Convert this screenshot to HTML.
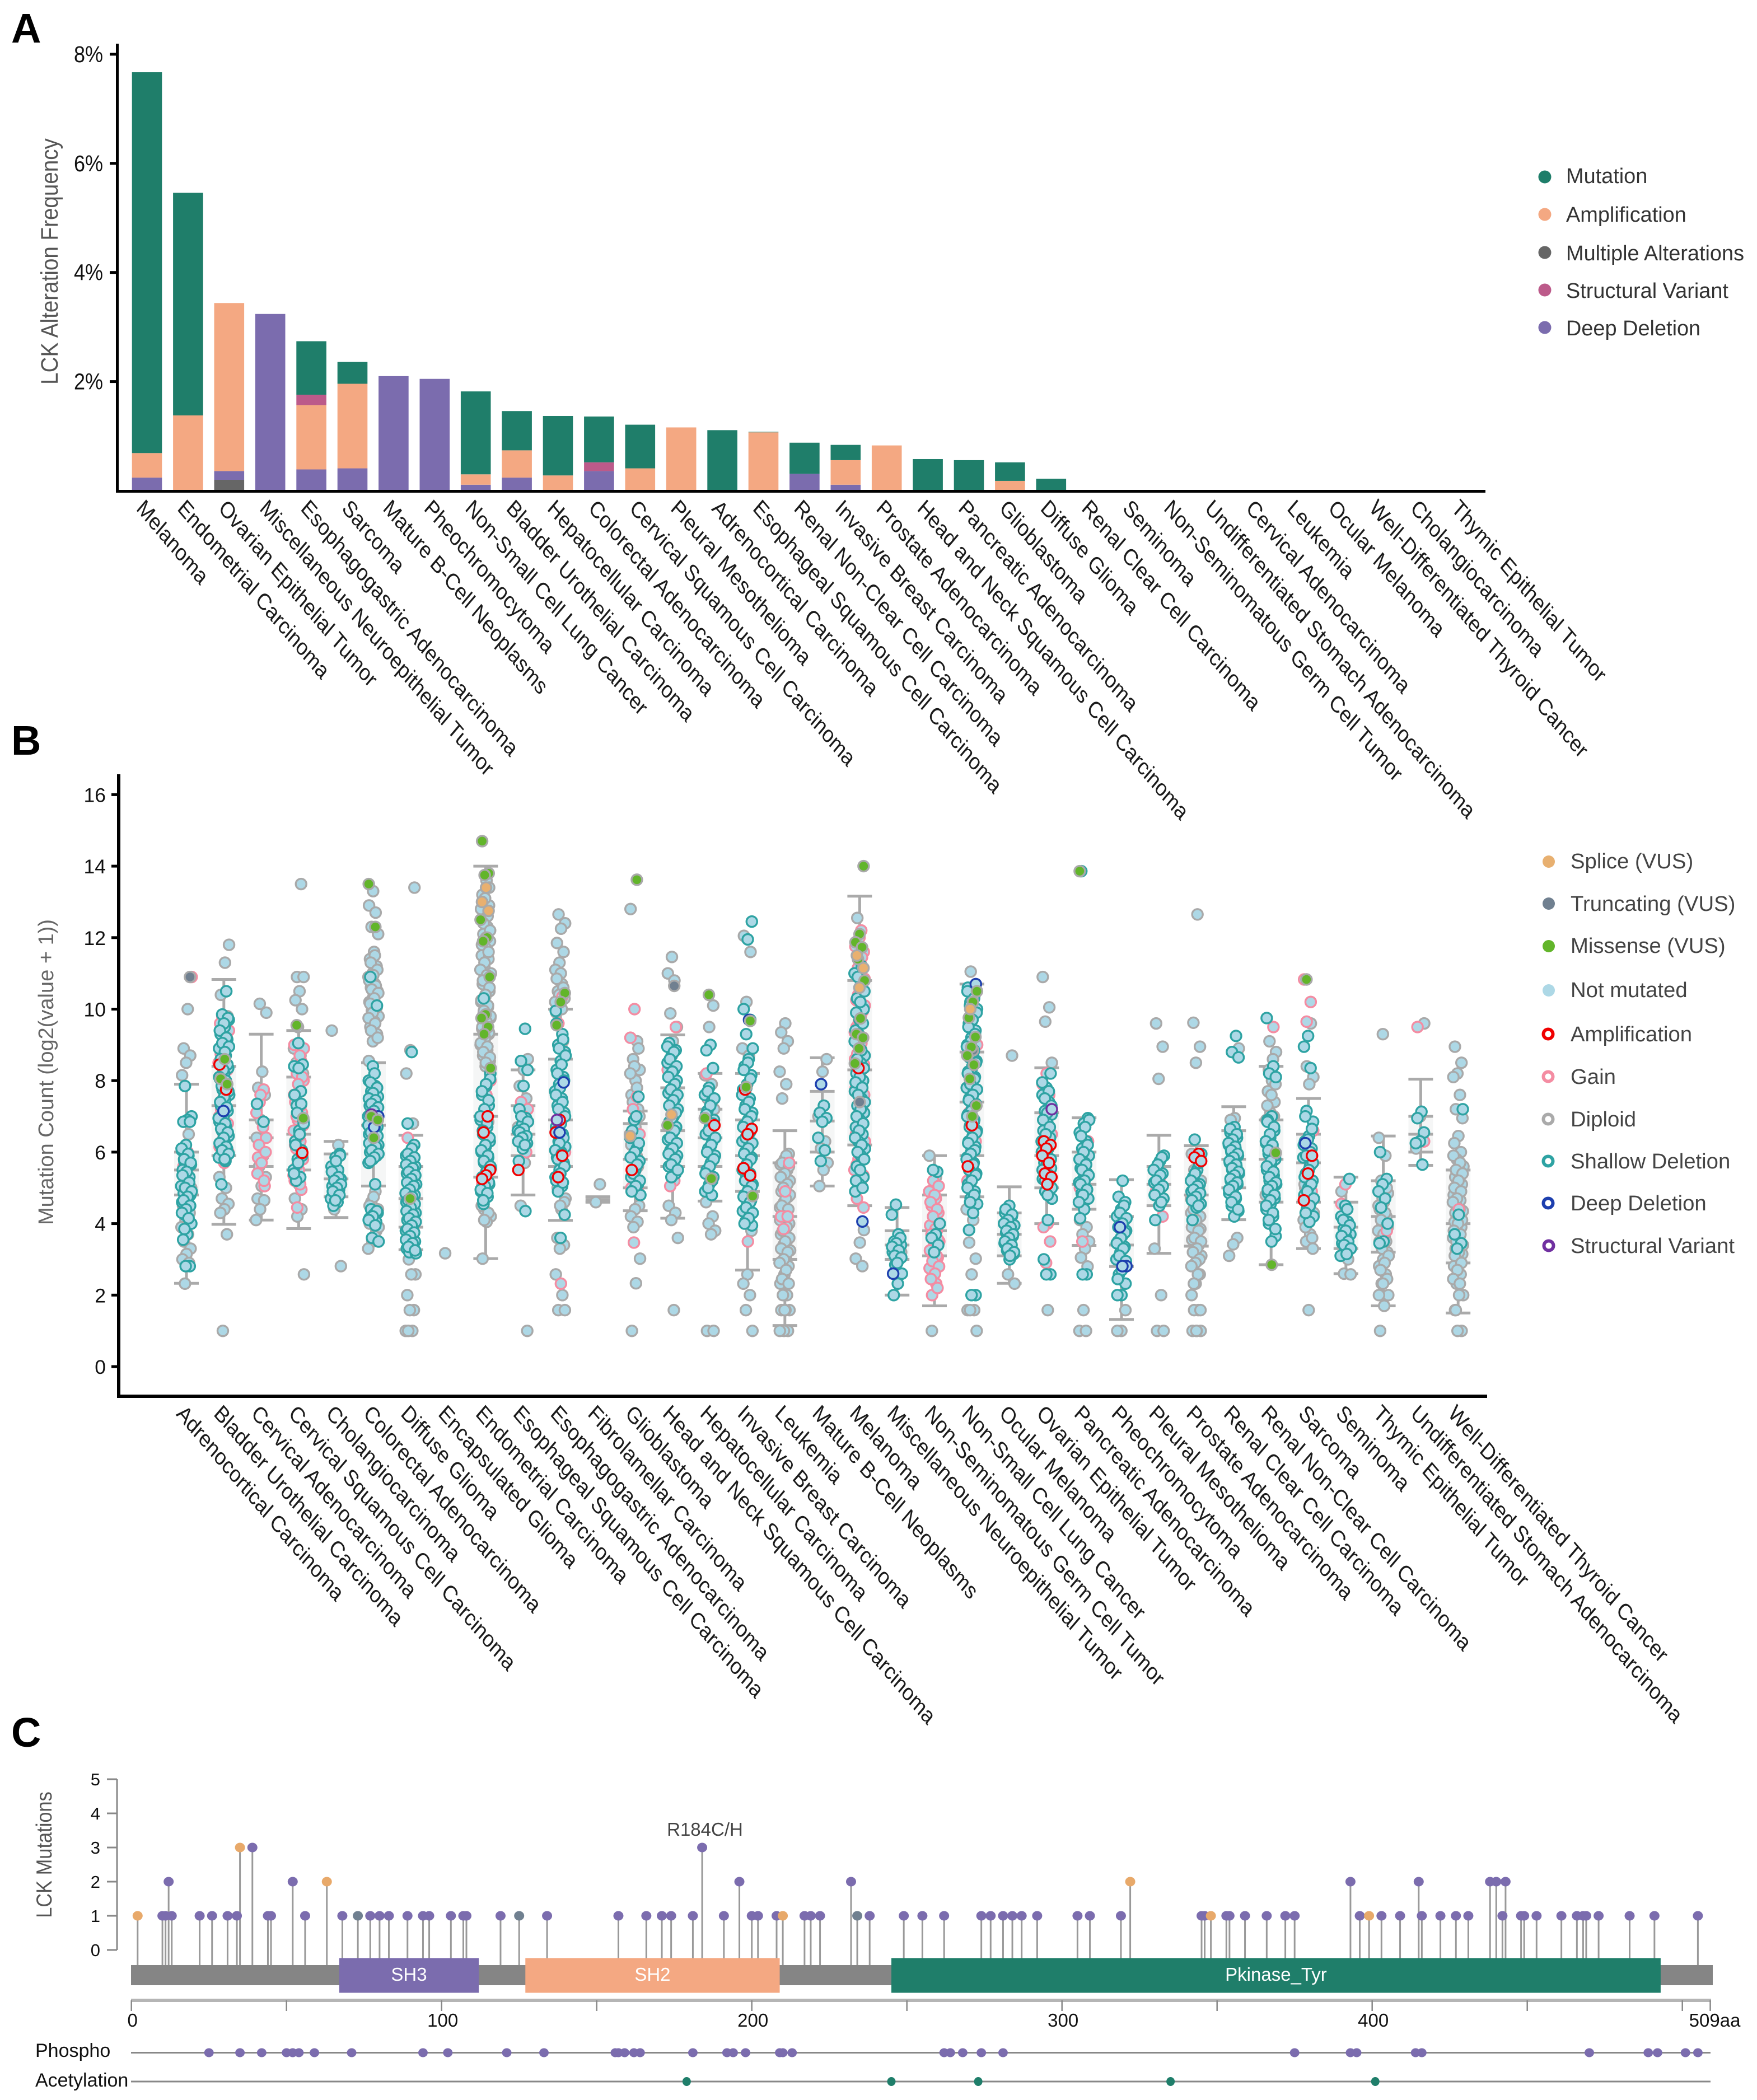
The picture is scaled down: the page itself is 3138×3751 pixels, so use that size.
<!DOCTYPE html>
<html lang="en">
<head>
<meta charset="utf-8">
<title>LCK alterations across cancer types</title>
<style>
html,body{margin:0;padding:0;background:#fff;}
svg{display:block;}
text{font-family:"Liberation Sans",Arial,sans-serif;}
</style>
</head>
<body>
<svg id="figure" xmlns="http://www.w3.org/2000/svg" width="3138" height="3751" viewBox="0 0 3138 3751">
  <rect x="0" y="0" width="3138" height="3751" fill="#ffffff"/>
  <text x="20" y="76" font-size="74" font-weight="700" fill="#000">A</text>
  <text x="20" y="1348" font-size="74" font-weight="700" fill="#000">B</text>
  <text x="20" y="3120" font-size="74" font-weight="700" fill="#000">C</text>

  <g id="panelA"></g>
  <g id="panelB"></g>
  <g id="panelC"></g>

  <g font-size="37.9" fill="#333">
    <g><circle cx="2759" cy="316" r="11.5" fill="#1f7e6a"/><text x="2797" y="327">Mutation</text></g>
    <g><circle cx="2759" cy="383" r="11.5" fill="#f4a882"/><text x="2797" y="396">Amplification</text></g>
    <g><circle cx="2759" cy="451" r="11.5" fill="#666666"/><text x="2797" y="465">Multiple Alterations</text></g>
    <g><circle cx="2759" cy="518" r="11.5" fill="#bc5a8a"/><text x="2797" y="532">Structural Variant</text></g>
    <g><circle cx="2759" cy="585" r="11.5" fill="#7b6cae"/><text x="2797" y="599">Deep Deletion</text></g>
  </g>

  <g font-size="38.3" fill="#444">
    <g><circle cx="2766" cy="1539" r="11" fill="#e8b070"/><text x="2805" y="1551">Splice (VUS)</text></g>
    <g><circle cx="2766" cy="1614" r="11" fill="#708090"/><text x="2805" y="1627">Truncating (VUS)</text></g>
    <g><circle cx="2766" cy="1690" r="11" fill="#62b52a"/><text x="2805" y="1702">Missense (VUS)</text></g>
    <g><circle cx="2766" cy="1769" r="11" fill="#add8e6"/><text x="2805" y="1781">Not mutated</text></g>
    <g><circle cx="2765" cy="1847" r="8.5" fill="#fff" stroke="#f00000" stroke-width="6"/><text x="2805" y="1860">Amplification</text></g>
    <g><circle cx="2765" cy="1923" r="8.5" fill="#fff" stroke="#f48ca2" stroke-width="6"/><text x="2805" y="1936">Gain</text></g>
    <g><circle cx="2765" cy="1999" r="8.5" fill="#fff" stroke="#aaaaaa" stroke-width="6"/><text x="2805" y="2012">Diploid</text></g>
    <g><circle cx="2765" cy="2074" r="8.5" fill="#fff" stroke="#2ea3a3" stroke-width="6"/><text x="2805" y="2087">Shallow Deletion</text></g>
    <g><circle cx="2765" cy="2149" r="8.5" fill="#fff" stroke="#1d3fae" stroke-width="6"/><text x="2805" y="2162">Deep Deletion</text></g>
    <g><circle cx="2766" cy="2225" r="8.5" fill="#fff" stroke="#7030a0" stroke-width="6"/><text x="2805" y="2238">Structural Variant</text></g>
  </g>
</svg>

<script>
/* ---------- Panel A data ---------- */
const alterationTypes = ["Melanoma","Endometrial Carcinoma","Ovarian Epithelial Tumor","Miscellaneous Neuroepithelial Tumor","Esophagogastric Adenocarcinoma","Sarcoma","Mature B-Cell Neoplasms","Pheochromocytoma","Non-Small Cell Lung Cancer","Bladder Urothelial Carcinoma","Hepatocellular Carcinoma","Colorectal Adenocarcinoma","Cervical Squamous Cell Carcinoma","Pleural Mesothelioma","Adrenocortical Carcinoma","Esophageal Squamous Cell Carcinoma","Renal Non-Clear Cell Carcinoma","Invasive Breast Carcinoma","Prostate Adenocarcinoma","Head and Neck Squamous Cell Carcinoma","Pancreatic Adenocarcinoma","Glioblastoma","Diffuse Glioma","Renal Clear Cell Carcinoma","Seminoma","Non-Seminomatous Germ Cell Tumor","Undifferentiated Stomach Adenocarcinoma","Cervical Adenocarcinoma","Leukemia","Ocular Melanoma","Well-Differentiated Thyroid Cancer","Cholangiocarcinoma","Thymic Epithelial Tumor"];
const multipleFreq = [0,0,0.2,0,0,0,0,0,0,0,0,0,0,0,0,0,0,0,0,0,0,0,0,0,0,0,0,0,0,0,0,0,0];
const deepFreq =     [0.24,0,0.16,3.24,0.39,0.41,2.1,2.05,0.11,0.24,0,0.36,0,0,0,0,0.31,0.11,0,0,0,0,0,0,0,0,0,0,0,0,0,0,0];
const ampFreq =      [0.45,1.38,3.08,0,1.18,1.55,0,0,0.19,0.5,0.28,0,0.41,1.16,0,1.07,0,0.45,0.83,0,0,0.18,0,0,0,0,0,0,0,0,0,0,0];
const structuralFreq=[0,0,0,0,0.19,0,0,0,0,0,0,0.16,0,0,0,0,0,0,0,0,0,0,0,0,0,0,0,0,0,0,0,0,0];
const mutationFreq = [6.98,4.08,0,0,0.98,0.4,0,0,1.52,0.72,1.09,0.84,0.8,0,1.11,0.01,0.57,0.28,0,0.58,0.56,0.34,0.22,0.015,0.015,0.015,0.015,0.015,0,0,0,0,0];
const percentTicks = [2,4,6,8];

/* ---------- Panel B data ---------- */
const cancerTypes = ["Adrenocortical Carcinoma","Bladder Urothelial Carcinoma","Cervical Adenocarcinoma","Cervical Squamous Cell Carcinoma","Cholangiocarcinoma","Colorectal Adenocarcinoma","Diffuse Glioma","Encapsulated Glioma","Endometrial Carcinoma","Esophageal Squamous Cell Carcinoma","Esophagogastric Adenocarcinoma","Fibrolamellar Carcinoma","Glioblastoma","Head and Neck Squamous Cell Carcinoma","Hepatocellular Carcinoma","Invasive Breast Carcinoma","Leukemia","Mature B-Cell Neoplasms","Melanoma","Miscellaneous Neuroepithelial Tumor","Non-Seminomatous Germ Cell Tumor","Non-Small Cell Lung Cancer","Ocular Melanoma","Ovarian Epithelial Tumor","Pancreatic Adenocarcinoma","Pheochromocytoma","Pleural Mesothelioma","Prostate Adenocarcinoma","Renal Clear Cell Carcinoma","Renal Non-Clear Cell Carcinoma","Sarcoma","Seminoma","Thymic Epithelial Tumor","Undifferentiated Stomach Adenocarcinoma","Well-Differentiated Thyroid Cancer"];
const countTicks = [0,2,4,6,8,10,12,14,16];
const whiskerHigh = [7.9,10.83,9.3,9.4,6.3,8.5,6.47,null,14,8.3,10,4.75,7.15,9.28,8.2,8.2,6.6,8.64,13.16,4.45,5.9,10.7,5.03,8.36,6.96,5.23,6.47,6.18,7.27,8.4,7.5,5.3,6.45,8.04,5.5];
const boxQ3 = [6,8.4,6.9,8.1,5.95,8.5,5.6,null,9.3,7.3,8.6,4.75,6.8,7.8,7.2,6.9,5.7,7.7,10.8,3.8,4.8,8.8,4.3,7.1,6,4.2,5.6,6.18,6.6,6.9,6.5,4.6,5.2,7,5.5];
const boxMedian = [5.5,7.3,6.4,6.5,5.25,6.75,4.7,null,7,6.5,6.9,4.67,5.8,6.6,6.4,5.9,4.2,6.87,8.3,3.4,3.8,7.4,3.7,5.9,5.1,3.4,5.1,4.8,5.8,5.8,5.7,3.9,4.2,6.5,4];
const boxQ1 = [4.8,5.9,5.6,5.5,4.75,5.05,3.9,null,5.3,5.9,5.6,4.6,5,5.6,5.6,4.9,3,6,6.2,3,3.1,5.9,3.1,5,4.4,2.8,4.5,3.37,5,4.6,4.6,3.3,3.2,6,2.9];
const whiskerLow = [2.33,3.98,4.1,3.86,4.17,5.05,3.27,null,3.02,4.8,4.09,4.6,4.36,4.15,4.63,2.7,1.15,5.05,4.5,2,1.7,4.75,2.33,4,3.39,1.32,3.17,3.37,4.11,2.85,3.3,2.6,1.7,5.63,1.5];

const diploidCounts = [
[10,8.9,8.7,8.5,8.15,6.5,5.3,5,4.7,4.5,4.3,4.1,3.9,3.7,3.5,3.3,3.15,3,2.9,2.32],
[11.8,11.3,10.4,9.8,9.4,5.3,5,4.7,4.55,4.4,4.3,3.7,1],
[10.15,9.9,8.25,7.8,7.6,6.9,6.4,5.9,5.6,5.3,5.05,4.7,4.65,4.4,4.1],
[13.5,10.9,10.9,10.5,10.25,10,9.5,8.9,8.7,8.5,8.2,5.1,4.7,4.4,4.2,2.58],
[9.4,6.2,4.4,2.81],
[13.3,12.9,12.7,12.3,12.1,11.6,11.4,11.2,11,10.9,10.7,10.6,10.5,10.35,10.2,10.1,9.95,9.8,9.65,9.5,9.3,9.1,8.55,4.9,4.6,4.4,4.2,4,3.8,3.5,3.3],
[13.4,8.85,8.2,6.8,3,2.58,2.58,2,1.58,1.58,1,1,1],
[3.17],
[13.6,13.2,12.9,12.7,12.5,12.3,12.1,11.9,11.7,11.5,11.4,11.2,11,10.85,10.7,10.5,10.35,10.2,10.05,9.9,9.75,9.6,9.45,9.3,9.15,9,8.85,8.7,8.55,8.4,7,6.85,4.4,4.2,4.05,3.02],
[8.6,8.3,7.85,7.5,7.2,6.7,5.7,4.5,1],
[12.65,12.4,12.25,11.85,11.6,11.3,11.1,10.7,10.5,10.3,10.1,9.9,9.1,5.1,4.7,4.4,3.6,3.4,3.3,2.58,2,1.58,1.58],
[5.1,4.6],
[12.8,9.1,8.6,8.3,8,7.6,7.2,6.9,6.5,5.9,5.3,4.5,4.4,4.2,4.05,3.9,3.02,2.33,1],
[11.46,11,10.8,9.88,9.5,9.1,4.5,4.3,4.1,3.6,1.58],
[10.1,9.5,8.15,7.9,7.5,7.2,6.8,4.6,4.2,4,3.8,3.7,1,1],
[12.05,11.6,10.2,8.9,8.7,4.3,3.8,2.58,2.32,2,1.58,1],
[9.6,9.35,9.1,8.9,8.25,7.9,7.5,5.95,5.8,5.65,5.5,5.35,5.2,5.05,4.9,4.75,4.6,4.45,4.3,4.15,4,3.85,3.7,3.55,3.4,3.25,3.1,2.95,2.81,2.58,2.32,2,2,1.58,1.58,1.58,1,1,1],
[8.6,8.25,7,6.3,6.1,5.7,5.5,5.05],
[12.55,3.82,3.47,3.02,2.81],
[3.6,3.4,3.2,3.05],
[5.9,5.3,1],
[11.05,4.4,4.1,3.47,3.02,2.58,1.58,1.58,1.58,1],
[8.7,2.58,2.32],
[10.9,10.05,9.65,8.5,1.58],
[6.8,4.1,3.9,3.7,3.5,3.3,3.05,2.8,1.58,1,1],
[1.58,1,1],
[9.6,8.95,8.05,3.3,2,1,1],
[12.65,9.62,8.95,8.5,5.95,5.75,5.5,5.2,4.9,4.75,4.6,4.45,4.3,4.15,4,3.85,3.7,3.55,3.4,3.25,3.1,2.95,2.81,2.58,2.32,2,1.58,1.58,1,1,1],
[8.9,6.95,6.9,3.6,3.42,3.1],
[9.1,8.8,8,7.7,7.4,7.1,6.9],
[9.6,8.4,8.1,7.9,5,4.7,4.4,4.1,3.7,3.5,3.3,1.58],
[4.9,3,2.6,2.58],
[9.3,6.4,5.9,5.2,4.85,4.6,4.4,4.2,4,3.8,3.6,3.4,3.2,3,2.81,2.58,2.32,2,1.7,1],
[9.6,7,6.1],
[8.95,8.5,8.2,8.1,7.6,7.2,6.95,6.45,6.25,6,5.8,5.6,5.5,5.3,5.1,4.95,4.8,4.65,4.5,4.35,4.2,4.05,3.9,3.75,3.6,3.45,3.3,3.15,3,2.81,2.58,2.32,2,2,1.58,1,1]
];
const diploidDense = [
[],[],[],[],[],
[11.5,11.3,11.1,10.95,10.8,10.65,10.55,10.45,10.3,10.15,10.05,9.9,9.75,9.6,9.4,9.2,4.75,4.5,4.3,4.1,3.9,3.65],
[],[],
[13.4,13.1,12.8,12.6,12.4,12.2,12,11.8,11.6,11.3,11.1,10.95,10.8,10.6,10.4,10.25,10.1,9.95,9.8,9.65,9.5,9.35,9.2,9.05,8.95,8.8,8.65,8.5,4.5,4.3,4.1],
[],
[11,10.85,10.6,10.4,10.2,10,5,4.6,4.5],
[],
[8.9,8.4,8.2,7.8,7.4,7,6.7,6.2,5.6],
[],[],[],
[5.9,5.7,5.6,5.4,5.3,5.1,5,4.8,4.7,4.5,4.4,4.2,4.1,3.9,3.8,3.6,3.5,3.3,3.2,3,2.9,2.7,2.45,2.32,1.58],
[],[],[],[],[],[],[],[],[],[],
[4.95,4.8,4.7,4.5,4.4,4.2,4.1,3.9,3.8,3.6,3.5,3.3,3.2,3,2.9,2.81,2.58,2.32,1.58,1],
[],
[8.6,8.3,7.9,7.6,7.3,7,5,4.8],
[5.1,4.9,4.6,4.3,4.2,3.9,3.6],
[],
[5,4.7,4.5,4.3,4.1,3.9,3.7,3.5,3.5,3.3,3.1,2.9,2.7,2.45,2.32,2],
[],
[5.9,5.7,5.5,5.4,5.2,5,4.9,4.7,4.6,4.4,4.3,4.1,4,3.8,3.7,3.5,3.4,3.2,3.1,2.9,2.7,2.45,2.32,1.58]
];
const gainCounts = [
[10.9,6,5.6],
[9.8,9.4,9,8.75,8.3,7.5,7,6.7,6.3,6,5.7],
[7.75,7.4,6.4,5.9,5.85,5.05],
[9,8.55,8.2,8,7.7,7.4,7.1,6.9,6.6,6.3,6.1,5.8,5.5,5.2,4.95,4.45],
[],[],[6.4],[],
[8,7.6,5.1],
[7.4,7.2,7,6.6,6],
[10.35,9.6,6,2.32],
[],
[10,9.2,7.55,7.2,6.5,5.5,5,4.9,3.47],
[9.5,8.7,8.3,5.2,5.05],
[8.2,6.9],
[3.5],
[5.7,4.9,4.2,4.2,3.85],
[],
[12.2,11.9,11.6,11.3,11,10.7,10.4,10.1,9.8,9.5,9.2,8.9,8.6,8.3,8,7.6,7,6.5,6.1,5.8,5.5,5.2,4.7,4.45],
[],
[5.2,4.9,4.7,4.5,4.3,4.1,3.95,3.8,3.65,3.5,3.35,3.2,3.05,2.9,2.75,2.32,2],
[10.4,9.8,9,8.6,7.1,6.3,5.6,5.2],
[],
[8.2,7.9,7.6,7.1,6.5,4,3.9,3.5,2.9],
[6.3,5.5,5,4.8,3.5],
[],
[5.3,4.9,4.2],
[],[],
[9.5],
[10.83,10.2,9.65,6.6,6.1,5.3,4.9],
[5.1,4.55,3.9],
[3.8],
[9.5,6.3],
[4.4]
];
const gainDense = [
[],
[9.6,9.2,8.9,8.5,7.8,7.2,6.8,6.5,6.15,5.85],
[7.6,7.1,6.7,6.2,6,5.7,5.4,5.2],
[8.9,8.7,8.4,8.1,7.9,7.6,7.3,7,6.75,6.45,6.2,5.95,5.65,5.35,5.1],
[],[],[],[],[],[],[],[],[],[],[],[],[],[],
[12,11.75,11.45,11.15,10.85,10.55,10.25,9.95,9.65,9.35,9.05,8.75,8.45,8.15,7.8,7.3,6.75,6.3,5.95,5.65,5.35],
[],
[5.05,4.8,4.6,4.4,4.2,4,3.85,3.7,3.55,3.4,3.25,3.1,2.95,2.8,2.6,2.45,2.2],
[],[],[],[],[],[],[],[],[],[],[],[],[],[]
];
const shallowCounts = [
[7.85,7,6.9,6.85,6.85,6.2,6.05,5.9,5.75,5.65,5.6,5.5,5.3,5.2,5.05,4.95,4.85,4.8,4.7,4.6,4.55,4.25,4,3.7,3.55,2.81,2.81],
[10.5,9.85,9.7,9.5,9.3,9.15,9,8.9,8.7,8.5,8.35,8.2,8.05,7.9,7.75,7.6,7.45,7.3,7.15,7,6.85,6.7,6.6,6.45,6.3,6.2,6.1,6,5.85,5.75,5.1],
[7.35,6.85],
[9.05,8.4,7.7,7.3,6.9,6.6,6.3,6.05,5.8,5.5,5.3,5.2],
[5.95,5.85,5.6,5.5,5.35,5.25,5.15,5.05,4.95,4.85,4.7,4.6,4.5],
[10.9,10.1,8.4,8,7.85,7.7,7.55,7.4,7.3,7.2,7.1,7,6.9,6.8,6.7,6.6,6.5,6.4,6.3,6.2,6.1,6,5.9,5.8,5.7,5.1,4.4,4.3,4.25,4.15,4.05,3.6,3.5],
[8.8,6.8,6.2,6,5.9,5.8,5.7,5.6,5.5,5.4,5.3,5.2,5.1,5,4.9,4.8,4.7,4.6,4.5,4.4,4.3,4.2,4.1,4,3.9,3.8,3.7,3.6,3.5,3.4,3.3,3.2,3.2,3.17],
[],
[10.3,8.2,7.85,7.6,7.3,7.1,6.9,6.7,6.5,6.3,6.15,6,5.85,5.7,5.55,5.4,5.25,5.1,5,4.9,4.75,4.55],
[9.45,8.55,8.3,7.85,7.2,6.95,6.75,6.6,6.5,6.35,6.25,6.1,5.75,4.35],
[9.95,9.3,9,8.8,8.55,8.3,8.1,7.9,7.7,7.5,7.3,7.1,6.9,6.7,6.5,6.3,6.15,6,5.85,5.7,5.5,5.3,5.05,4.9,4.25,3.6],
[],
[7.55,6.9,6.4,6.1,5.9,5.75,5.5,5.3,5.1,4.95,4.8],
[9.05,8.85,8.7,8.5,8.3,8.15,8,7.8,7.65,7.5,7.35,7.2,7,6.85,6.7,6.5,6.35,6.2,6.05,5.9,5.75,5.6,5.4,5.3],
[9,8.85,8.35,7.8,7.6,7.4,7.15,6.9,6.7,6.5,6.3,6.1,5.9,5.7,5.5,5.3,5.1,4.9,4.8],
[12.45,11.95,10,9.7,9.3,8.9,8.6,8.4,8.15,7.9,7.75,7.5,7.3,7.1,6.9,6.75,6.6,6.45,6.3,6.15,6,5.85,5.7,5.55,5.4,5.25,5.1,4.95,4.8,4.65,4.5,4.35,4.2,4.05,3.95],
[],
[7.3,7.1,6.95,6.85,6.4,6.05,5.75],
[11,10.7,10.3,10,9.7,9.4,9.2,9,8.7,8.5,8.2,8,7.85,7.7,7.5,7.3,7.1,6.9,6.7,6.5,6.3,6.1,5.9,5.6,5.3,5.1,4.9],
[4.53,4.25,3.7,3.5,3.4,3.3,3.2,3,2.85,2.6,2.32,2],
[5.45,5.5,4,3.7,3.6,3.4,3.2],
[10.6,10.4,10.2,10,9.8,9.6,9.4,9.2,9,8.85,8.7,8.55,8.4,8.25,8.1,7.95,7.8,7.65,7.5,7.35,7.2,7.05,6.9,6.75,6.6,6.45,6.3,6.15,6,5.85,5.7,5.55,5.4,5.25,5.1,4.9,4.7,4.55,4.3,3.82,2,2],
[4.5,4.3,4.2,4.05,3.95,3.85,3.75,3.65,3.55,3.45,3.35,3.25,3.15,3],
[8.2,7.8,7.6,7.4,7.15,7.05,6.8,6.6,6.4,6.2,6,5.85,5.7,5.55,5.4,5.25,5.1,4.9,4.7,4.1,3,2.58,2.58],
[13.86,6.95,6.8,6.55,6.3,6.1,5.9,5.7,5.55,5.4,5.25,5.15,5,4.85,4.7,4.4,4.15,2.58,2.58],
[5.2,4.75,4.6,4.4,4.2,4.05,3.95,3.8,3.65,3.5,3.35,3.2,3,2.85,2.58,2.32,2,2],
[5.9,5.75,5.55,5.4,5.3,5.15,5,4.85,4.7,4.5,4.1],
[6.35,5.95,5.5,5.3,5.1,5,4.9,4.8,4.7,4.55,4.45,4.1],
[9.25,8.8,8.65,6.7,6.55,6.4,6.3,6.2,6.1,6,5.9,5.8,5.7,5.6,5.5,5.4,5.3,5.2,5.1,5,4.85,4.7,4.5,4.35,4.2],
[9.75,8.4,8.2,8.1,7,6.9,6.6,6.4,6.25,6.1,5.95,5.8,5.65,5.5,5.35,5.2,5.1,5,4.85,4.7,4.55,4.4,4.2,4,3.65,3.5],
[9.25,8.95,8.35,7.15,6.85,6.45,6.3,6.1,5.95,5.85,5.6,5.4,5.2,5,4.8,4.6,4.4,4.2,4.05],
[5.25,4.5,4.2,4.05,3.85,3.7,3.6,3.45,3.35,3.2,3.1],
[6,5.25,5.1,4.9,4.7,4.45,4,3.5,3.45],
[7.13,6.95,6.55,6.3,6.25,5.65],
[7.2,4.25,3.7,3.45,3.3]
];
const shallowDense = [
[6.1,5.95,5.8,5.7,5.45,5.35,5.15,5,4.9,4.75,4.65,4.5,4.4,4.3,4.15,3.85],
[9.75,9.6,9.4,9.2,9.05,8.95,8.8,8.6,8.45,8.3,8.1,8,7.85,7.7,7.55,7.4,7.25,7.1,6.95,6.8,6.65,6.55,6.4,6.25,6.15,6.05,5.95,5.8],
[],
[8.45,8.35,7.6,7.35,7.1,6.8,6.5,6.2,5.9,5.7,5.4],
[5.9,5.75,5.45,5.3,5.2,5.1,5,4.9,4.8,4.65],
[8.2,7.95,7.8,7.65,7.5,7.45,7.35,7.25,7.15,7.05,6.95,6.85,6.75,6.65,6.55,6.45,6.35,6.25,6.15,6.05,5.95,5.85,5.75,4.35,4.2,4.1,3.95],
[6.1,5.95,5.85,5.75,5.65,5.55,5.45,5.35,5.25,5.15,5.05,4.95,4.85,4.75,4.65,4.55,4.45,4.35,4.25,4.15,4.05,3.95,3.85,3.75,3.65,3.55,3.45,3.35,3.25],
[],
[8.05,7.9,7.7,7.45,7.2,7,6.8,6.6,6.4,6.2,6.05,5.9,5.75,5.6,5.45,5.3,5.15,5.05,4.95,4.85,4.65],
[7,6.85,6.65,6.55,6.45,6.4,6.3,6.2],
[9.6,9.15,8.9,8.7,8.45,8.2,8,7.8,7.6,7.4,7.2,7,6.8,6.6,6.4,6.25,6.05,5.95,5.8,5.6,5.4,5.2,5.15],
[],
[7,6.6,6.25,6,5.85,5.65,5.4,5.2,5.05,4.9],
[8.95,8.8,8.6,8.4,8.25,8.1,7.9,7.75,7.6,7.45,7.3,7.1,6.95,6.75,6.6,6.4,6.25,6.1,5.95,5.8,5.65,5.5],
[7.7,7.5,7.3,7.05,6.8,6.6,6.4,6.2,6,5.8,5.6,5.4,5.2,5],
[8.5,8.3,8.05,7.8,7.6,7.4,7.2,7,6.85,6.7,6.55,6.4,6.25,6.1,5.95,5.8,5.65,5.5,5.35,5.2,5.05,4.9,4.75,4.6,4.45,4.3,4.15,4],
[],
[],
[11.2,10.9,10.5,10.2,9.9,9.6,9.3,9.1,8.85,8.6,8.35,8.1,7.95,7.8,7.6,7.4,7.2,7,6.8,6.6,6.4,6.2,6,5.8,5.5,5.2,5],
[3.6,3.45,3.35,3.25,3.1,3.05,2.9],
[],
[10.5,10.3,10.1,9.9,9.7,9.5,9.3,9.1,8.95,8.8,8.65,8.5,8.35,8.2,8.05,7.9,7.75,7.6,7.45,7.3,7.15,7,6.85,6.7,6.55,6.4,6.25,6.05,5.95,5.8,5.65,5.5,5.35,5.2,5,4.8,4.6],
[4.4,4.25,4.1,4,3.9,3.8,3.7,3.6,3.5,3.4,3.3,3.2,3.1],
[7.95,7.7,7.5,7.3,7.1,6.9,6.7,6.5,6.3,6.1,5.95,5.8,5.65,5.5,5.35,5.2,5,4.8],
[6.9,6.7,6.45,6.2,6,5.8,5.65,5.5,5.35,5.2,5.1,4.95,4.8,4.6],
[4.5,4.3,4.15,4,3.9,3.75,3.6,3.45,3.3,3.1,2.95,2.7,2.45],
[5.85,5.65,5.5,5.35,5.2,5.05,4.95,4.8,4.6],
[5.7,5.4,5.2,5.05,4.95,4.85,4.75,4.65,4.5],
[6.65,6.5,6.35,6.25,6.15,6.05,5.95,5.85,5.75,5.65,5.55,5.45,5.35,5.25,5.15,5.05,4.95,4.75,4.6,4.4],
[6.85,6.7,6.5,6.3,6.2,6.05,5.9,5.75,5.6,5.45,5.3,5.15,5.05,4.95,4.8,4.65,4.5,4.3,4.1,3.85],
[7,6.65,6.35,6.2,6,5.9,5.7,5.5,5.3,5.1,4.9,4.7,4.5,4.3],
[4.4,4.1,3.95,3.8,3.65,3.5,3.4,3.3,3.15],
[],[],[]
];
const ampCounts = [
[],[8.45,7.75],[],[5.98],[],[],[],[],[7,6.55,5.5,5.35,5.25],[5.5],[6.9,6.55,5.9,5.3],[],[5.5],[],[6.75],[7.75,6.65,6.5,5.55,5.35],[],[],[8.35],[],[],[6.75,5.6],[],[6.3,6.2,6.1,5.9,5.7,5.4,5.3,5.1],[],[],[],[5.95,5.85,5.75],[],[],[5.9,5.4,4.65],[],[],[],[]
];
const deepCounts = [
[],[7.15],[],[],[],[7,6.7],[],[],[],[],[7.95,6.55],[],[],[],[],[9.7],[],[7.9],[4.06],[2.6],[],[10.7],[],[],[],[3.9,2.81,2.81],[],[],[],[],[6.25],[],[],[],[]
];
const structuralCounts = [
[],[],[],[],[],[7.05],[],[],[],[],[6.9],[],[],[],[],[],[],[],[],[],[],[],[],[7.2],[],[],[],[],[],[],[],[],[],[],[]
];
const missenseCounts = [
[],[8.6,8.05,7.9],[],[9.55,6.95],[],[13.5,12.3,7,6.9,6.4],[4.7],[],[14.7,13.8,13.75,12.5,12,11.9,10.9,9.85,9.75,9.5,9.3,8.35],[],[10.45,10.2,9.55],[],[13.62],[6.75],[10.4,6.95,5.26],[9.67,7.82,4.77],[],[],[14,12.1,11.87,11.73,11.4,10.8,9.74,9.3,9.2,8.9,8.48],[],[],[10.5,10.2,9.76,9.22,8.94,8.7,8.44,8.05,7.3,7],[],[],[13.86],[],[],[],[],[5.98,2.85],[10.83],[],[],[],[]
];
const spliceCounts = [
[],[],[],[],[],[],[],[],[13.4,13,12.75],[],[],[],[6.45],[7.05],[],[],[],[],[11.5,11.15,10.6],[],[],[10],[],[],[],[],[],[],[],[],[],[],[],[],[]
];
const truncatingCounts = [
[10.9],[],[],[],[],[],[],[],[],[],[],[],[],[10.65],[],[],[],[],[7.4],[],[],[8.85],[],[],[],[],[],[],[],[],[],[],[],[],[]
];

/* ---------- Panel C data ---------- */
const lollipopAa = [2,10,11,12,13,22,26,31,34,35,39,44,45,52,56,63,68,73,77,80,83,89,94,96,103,107,108,119,125,134,157,166,171,174,181,184,191,196,200,202,208,210,217,219,222,232,234,238,249,255,262,274,277,281,284,287,292,305,309,319,322,345,346,348,353,354,359,366,372,375,393,396,399,403,409,415,416,422,427,431,438,440,442,443,448,449,453,461,466,468,469,473,483,491,505];
const lollipopCounts = [1,1,1,2,1,1,1,1,1,3,3,1,1,2,1,2,1,1,1,1,1,1,1,1,1,1,1,1,1,1,1,1,1,1,1,3,1,2,1,1,1,1,1,1,1,2,1,1,1,1,1,1,1,1,1,1,1,1,1,1,2,1,1,1,1,1,1,1,1,1,2,1,1,1,1,2,1,1,1,1,2,2,1,2,1,1,1,1,1,1,1,1,1,1,1];
const spliceAa = [2,35,63,210,322,348,399];
const truncatingAa = [73,125,234];
const phosphoAa = [25,35,42,50,52,54,59,71,94,102,121,133,156,157,159,162,164,181,192,194,198,209,210,213,262,264,268,274,281,375,393,395,414,416,470,489,492,501,505];
const acetylAa = [179,245,273,335,401];
const aaTicks = [0,50,100,150,200,250,300,350,400,450,500,509];
const aaTickLabels = ["0","","100","","200","","300","","400","","","509aa"];
const mutationTicks = [0,1,2,3,4,5];
const domainNames = ["SH3","SH2","Pkinase_Tyr"];
const domainStart = [67,127,245];
const domainEnd = [112,209,493];
const proteinLength = 509;

/* ---------- helpers ---------- */
const SVGNS = "http://www.w3.org/2000/svg";
function el(tag, parent, attrs, txt){
  const e = document.createElementNS(SVGNS, tag);
  for (const k in attrs) e.setAttribute(k, attrs[k]);
  if (txt !== undefined) e.textContent = txt;
  parent.appendChild(e);
  return e;
}
function slug(s){ return String(s).toLowerCase().replace(/[^a-z0-9]+/g,'-').replace(/^-|-$/g,''); }

/* ---------- Panel A ---------- */
(function(){
  const g = document.getElementById('panelA');
  const yA = v => 876.5 - 97.45 * v;
  const xA = i => 262.5 + 73.4 * i;
  const barW = 53.6;
  const layers = [
    ['multiple', multipleFreq, '#666666'],
    ['deep-deletion', deepFreq, '#7b6cae'],
    ['amplification', ampFreq, '#f4a882'],
    ['structural-variant', structuralFreq, '#bc5a8a'],
    ['mutation', mutationFreq, '#1f7e6a']
  ];
  alterationTypes.forEach(function(name, i){
    let base = 0;
    layers.forEach(function(l){
      const v = l[1][i];
      if (!v) return;
      const r = el('rect', g, {x: xA(i) - barW/2, y: yA(base + v), width: barW, height: yA(base) - yA(base + v), fill: l[2]});
      
      
      base += v;
    });
    const t = el('text', g, {transform: 'translate(' + (xA(i) - 20.5) + ',910) scale(1,1.18) rotate(45)', 'font-size': 35, fill: '#1a1a1a'}, name);
    
    
  });
  const ya = el('rect', g, {x: 207, y: 78, width: 5, height: 802, fill: '#000'});
  
  
  const xa = el('rect', g, {x: 207, y: 875, width: 2446, height: 5, fill: '#000'});
  
  
  percentTicks.forEach(function(v){
    const tk = el('rect', g, {x: 196, y: yA(v) - 2.5, width: 12, height: 5, fill: '#000'});
    
    
    const lb = el('text', g, {transform: 'translate(184,' + (yA(v) + 14) + ') scale(1,1.12)', 'text-anchor': 'end', 'font-size': 36, fill: '#111'}, v + '%');
    
    
  });
  const yt = el('text', g, {transform: 'translate(103,467) scale(1.1,1) rotate(-90)', 'text-anchor': 'middle', 'font-size': 38.6, fill: '#555'}, 'LCK Alteration Frequency');
  
  
})();

/* ---------- Panel B ---------- */
(function(){
  const g = document.getElementById('panelB');
  const yB = v => 2441 - 63.85 * v;
  const xB = i => 333 + 66.8 * i;
  const capW = 44;
  const jitter = (n, salt) => (((n + 1) * 0.6180339 + salt * 0.37) % 1 - 0.5) * 19;

  cancerTypes.forEach(function(name, i){
    if (whiskerHigh[i] === null) return;
    const cx = xB(i), col = '#aaaaaa';
    const box = el('rect', g, {x: cx - capW/2, y: yB(boxQ3[i]), width: capW, height: yB(boxQ1[i]) - yB(boxQ3[i]), fill: '#f5f6f6'});
    
    
    const wh = el('line', g, {x1: cx, x2: cx, y1: yB(whiskerHigh[i]), y2: yB(whiskerLow[i]), stroke: col, 'stroke-width': 5});
    
    
    [whiskerHigh[i], boxQ3[i], boxMedian[i], boxQ1[i], whiskerLow[i]].forEach(function(v, k){
      const c = el('line', g, {x1: cx - capW/2, x2: cx + capW/2, y1: yB(v), y2: yB(v), stroke: col, 'stroke-width': 5});
      
      
    });
  });

  const groups = [
    ['diploid', diploidCounts, '#add8e6', '#a9a9a9', diploidDense],
    ['gain', gainCounts, '#add8e6', '#f48ca2', gainDense],
    ['shallow-deletion', shallowCounts, '#add8e6', '#2ea3a3', shallowDense],
    ['amplification', ampCounts, '#add8e6', '#f00000', null],
    ['deep-deletion', deepCounts, '#add8e6', '#1d3fae', null],
    ['structural-variant', structuralCounts, '#add8e6', '#7030a0', null],
    ['truncating', truncatingCounts, '#708090', '#a9a9a9', null],
    ['missense', missenseCounts, '#62b52a', '#a9a9a9', null],
    ['splice', spliceCounts, '#e8b070', '#a9a9a9', null]
  ];
  groups.forEach(function(gr, gi){
    gr[1].forEach(function(vals, i){
      const all = gr[4] ? vals.concat(gr[4][i]) : vals;
      all.forEach(function(v, n){
        const p = el('circle', g, {cx: xB(i) + jitter(n, gi + i), cy: yB(v), r: 9.5, fill: gr[2], stroke: gr[3], 'stroke-width': 3.4});
        
        
      });
    });
  });

  cancerTypes.forEach(function(name, i){
    const t = el('text', g, {transform: 'translate(' + (xB(i) - 19.5) + ',2527) scale(1,1.17) rotate(45)', 'font-size': 35.2, fill: '#1a1a1a'}, name);
    
    
  });

  const ya = el('rect', g, {x: 209, y: 1383, width: 6, height: 1114, fill: '#000'});
  
  
  const xa = el('rect', g, {x: 209, y: 2491, width: 2447, height: 6, fill: '#000'});
  
  
  countTicks.forEach(function(v){
    const tk = el('rect', g, {x: 199, y: yB(v) - 2.5, width: 11, height: 5, fill: '#000'});
    
    
    const lb = el('text', g, {x: 189, y: yB(v) + 13, 'text-anchor': 'end', 'font-size': 35.5, fill: '#111'}, v);
    
    
  });
  const yt = el('text', g, {transform: 'translate(95,1915) rotate(-90)', 'text-anchor': 'middle', 'font-size': 38, fill: '#666'}, 'Mutation Count (log2(value + 1))');
  
  
})();

/* ---------- Panel C ---------- */
(function(){
  const g = document.getElementById('panelC');
  const xC = aa => 234.7 + 5.54 * aa;
  const yC = c => 3483 - 61 * c;
  const purple = '#7b6cae', orange = '#e8a96a', slate = '#708090', teal = '#1f7e6a';

  lollipopAa.forEach(function(aa, i){
    const s = el('line', g, {x1: xC(aa), x2: xC(aa), y1: yC(lollipopCounts[i]), y2: 3515, stroke: '#999999', 'stroke-width': 3});
    
    
  });
  const bar = el('rect', g, {x: 234, y: 3510, width: 2825, height: 36, fill: '#858585'});
  
  
  const domainColors = [purple, '#f4a882', teal];
  domainNames.forEach(function(name, i){
    const x0 = xC(domainStart[i]), x1 = xC(domainEnd[i]);
    const r = el('rect', g, {x: x0, y: 3497.5, width: x1 - x0, height: 62, fill: domainColors[i]});
    
    
    const t = el('text', g, {x: (x0 + x1) / 2, y: 3538, 'text-anchor': 'middle', 'font-size': 33, fill: '#fff'}, name);
    
    
  });
  lollipopAa.forEach(function(aa, i){
    const col = spliceAa.includes(aa) ? orange : truncatingAa.includes(aa) ? slate : purple;
    const d = el('ellipse', g, {cx: xC(aa), cy: yC(lollipopCounts[i]), rx: 9, ry: 8.5, fill: col});
    
    
  });
  const note = el('text', g, {x: 1259, y: 3279, 'text-anchor': 'middle', 'font-size': 33, fill: '#444'}, 'R184C/H');
  
  

  const ya = el('line', g, {x1: 209, x2: 209, y1: yC(5), y2: yC(0), stroke: '#888', 'stroke-width': 3});
  
  
  mutationTicks.forEach(function(v){
    const tk = el('line', g, {x1: 191, x2: 209, y1: yC(v), y2: yC(v), stroke: '#888', 'stroke-width': 3});
    
    
    const lb = el('text', g, {x: 179, y: yC(v) + 11, 'text-anchor': 'end', 'font-size': 31, fill: '#111'}, v);
    
    
  });
  const yt = el('text', g, {transform: 'translate(92,3313) scale(1.12,1) rotate(-90)', 'text-anchor': 'middle', 'font-size': 34.4, fill: '#555'}, 'LCK Mutations');
  
  

  const ax = el('rect', g, {x: 234, y: 3570, width: 2822, height: 6, fill: '#b5b5b5'});
  
  
  aaTicks.forEach(function(aa, i){
    const tk = el('line', g, {x1: xC(aa), x2: xC(aa), y1: 3573, y2: 3592, stroke: '#888', 'stroke-width': 2.5});
    
    
    if (aaTickLabels[i]) {
      const lb = el('text', g, {x: xC(aa) + (aa === 509 ? 8 : 2), y: 3620, 'text-anchor': 'middle', 'font-size': 33, fill: '#111'}, aaTickLabels[i]);
      
      
    }
  });

  [['Phospho', 3666.5, phosphoAa, purple, 3674], ['Acetylation', 3718, acetylAa, teal, 3727]].forEach(function(tr){
    const lb = el('text', g, {x: 63, y: tr[4], 'font-size': 34, fill: '#111'}, tr[0]);
    
    
    const ln = el('line', g, {x1: 234, x2: 3055, y1: tr[1], y2: tr[1], stroke: '#888', 'stroke-width': 3});
    
    
    tr[2].forEach(function(aa){
      const d = el('ellipse', g, {cx: xC(aa), cy: tr[1], rx: tr[0] === 'Phospho' ? 8.5 : 7.5, ry: 8, fill: tr[3]});
      
      
    });
  });
})();
</script>
</body>
</html>
